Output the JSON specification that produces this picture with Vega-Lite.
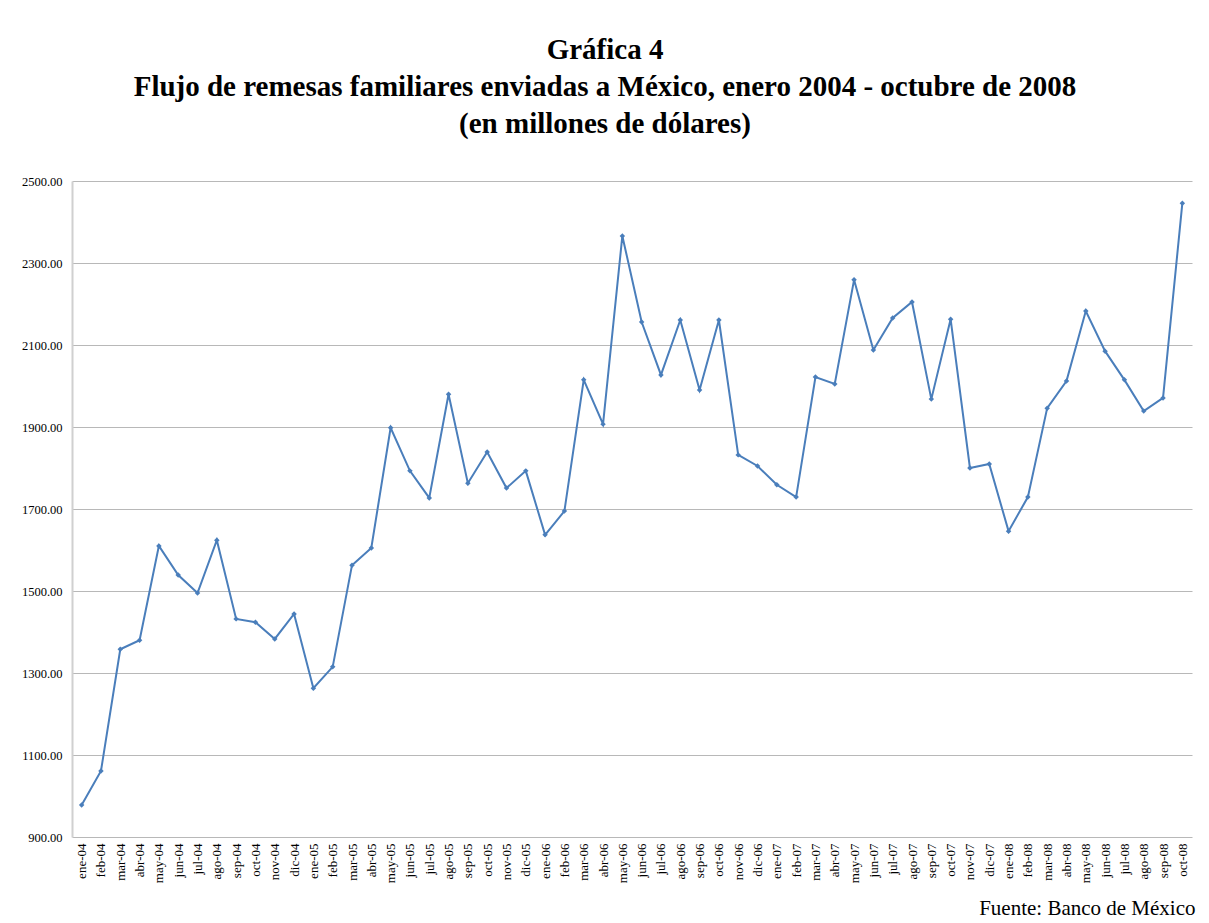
{
  "$schema": "https://vega.github.io/schema/vega-lite/v6.json",
  "width": 1120,
  "height": 656,
  "autosize": {"type": "none"},
  "padding": {"left": 72, "top": 181, "right": 17, "bottom": 86},
  "background": "white",
  "title": {
    "text": ["Gráfica 4", "Flujo de remesas familiares enviadas a México, enero 2004 - octubre de 2008", "(en millones de dólares)"],
    "font": "Liberation Serif",
    "fontSize": 29,
    "fontWeight": "bold",
    "color": "#000000",
    "lineHeight": 37,
    "anchor": "middle",
    "dx": -27,
    "offset": 36
  },
  "data": {
    "values": [
      {"mes": "ene-04", "valor": 978},
      {"mes": "feb-04", "valor": 1061},
      {"mes": "mar-04", "valor": 1358},
      {"mes": "abr-04", "valor": 1380},
      {"mes": "may-04", "valor": 1610},
      {"mes": "jun-04", "valor": 1539},
      {"mes": "jul-04", "valor": 1495},
      {"mes": "ago-04", "valor": 1624},
      {"mes": "sep-04", "valor": 1432},
      {"mes": "oct-04", "valor": 1424},
      {"mes": "nov-04", "valor": 1383},
      {"mes": "dic-04", "valor": 1444},
      {"mes": "ene-05", "valor": 1263},
      {"mes": "feb-05", "valor": 1315},
      {"mes": "mar-05", "valor": 1563},
      {"mes": "abr-05", "valor": 1605},
      {"mes": "may-05", "valor": 1898},
      {"mes": "jun-05", "valor": 1793},
      {"mes": "jul-05", "valor": 1727},
      {"mes": "ago-05", "valor": 1980},
      {"mes": "sep-05", "valor": 1763},
      {"mes": "oct-05", "valor": 1839},
      {"mes": "nov-05", "valor": 1751},
      {"mes": "dic-05", "valor": 1793},
      {"mes": "ene-06", "valor": 1637},
      {"mes": "feb-06", "valor": 1695},
      {"mes": "mar-06", "valor": 2015},
      {"mes": "abr-06", "valor": 1907},
      {"mes": "may-06", "valor": 2366},
      {"mes": "jun-06", "valor": 2156},
      {"mes": "jul-06", "valor": 2027},
      {"mes": "ago-06", "valor": 2161},
      {"mes": "sep-06", "valor": 1990},
      {"mes": "oct-06", "valor": 2161},
      {"mes": "nov-06", "valor": 1832},
      {"mes": "dic-06", "valor": 1805},
      {"mes": "ene-07", "valor": 1759},
      {"mes": "feb-07", "valor": 1729},
      {"mes": "mar-07", "valor": 2022},
      {"mes": "abr-07", "valor": 2005},
      {"mes": "may-07", "valor": 2259},
      {"mes": "jun-07", "valor": 2088},
      {"mes": "jul-07", "valor": 2166},
      {"mes": "ago-07", "valor": 2205},
      {"mes": "sep-07", "valor": 1968},
      {"mes": "oct-07", "valor": 2163},
      {"mes": "nov-07", "valor": 1800},
      {"mes": "dic-07", "valor": 1810},
      {"mes": "ene-08", "valor": 1646},
      {"mes": "feb-08", "valor": 1729},
      {"mes": "mar-08", "valor": 1946},
      {"mes": "abr-08", "valor": 2012},
      {"mes": "may-08", "valor": 2183},
      {"mes": "jun-08", "valor": 2085},
      {"mes": "jul-08", "valor": 2015},
      {"mes": "ago-08", "valor": 1939},
      {"mes": "sep-08", "valor": 1971},
      {"mes": "oct-08", "valor": 2446}
    ]
  },
  "mark": {
    "type": "line",
    "color": "#4a7ebb",
    "strokeWidth": 2,
    "point": {"shape": "diamond", "filled": true, "size": 30, "color": "#4a7ebb"}
  },
  "encoding": {
    "x": {
      "field": "mes",
      "type": "ordinal",
      "sort": null,
      "scale": {"type": "point", "padding": 0.5},
      "axis": {
        "title": "Fuente: Banco de México",
        "titleFont": "Liberation Serif",
        "titleFontSize": 21,
        "titleFontWeight": "normal",
        "titleColor": "#000000",
        "titleAnchor": "end",
        "titleBaseline": "alphabetic",
        "titleY": 77,
        "titleX": 1123,
        "labelAngle": 270,
        "labelFont": "Liberation Serif",
        "labelFontSize": 13,
        "labelColor": "#000000",
        "labelPadding": 6,
        "ticks": false,
        "domain": false,
        "grid": false
      }
    },
    "y": {
      "field": "valor",
      "type": "quantitative",
      "scale": {"domain": [900, 2500], "nice": false, "zero": false},
      "axis": {
        "title": null,
        "values": [900, 1100, 1300, 1500, 1700, 1900, 2100, 2300, 2500],
        "format": ".2f",
        "labelFont": "Liberation Serif",
        "labelFontSize": 12.5,
        "labelColor": "#000000",
        "labelPadding": 10,
        "ticks": false,
        "domain": true,
        "domainColor": "#d0d0d0",
        "domainWidth": 2,
        "grid": true,
        "gridColor": "#b8b8b8",
        "gridWidth": 1
      }
    }
  },
  "config": {
    "view": {"stroke": null}
  }
}
